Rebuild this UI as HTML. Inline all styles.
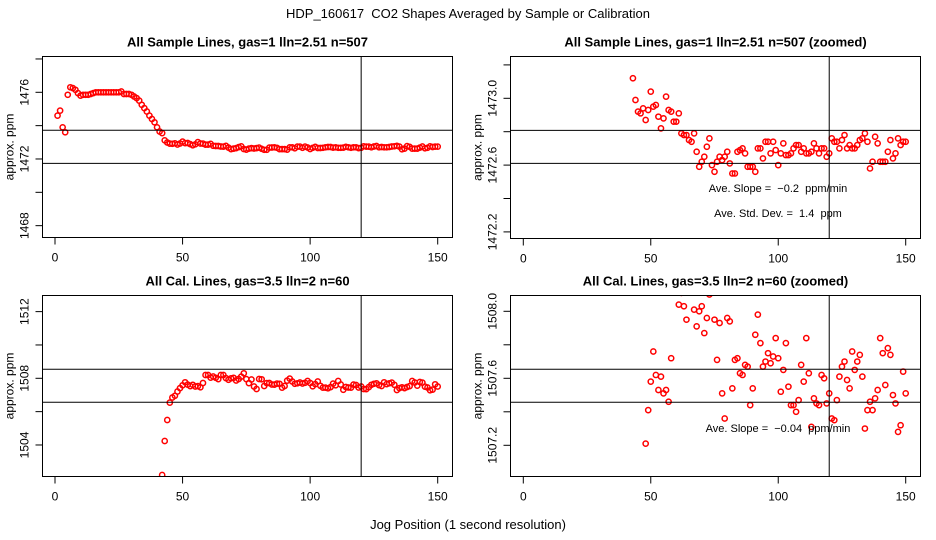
<!DOCTYPE html>
<html><head><meta charset="utf-8"><style>
html,body{margin:0;padding:0;background:#fff;width:936px;height:540px;overflow:hidden;}
svg{display:block;font-family:"Liberation Sans",sans-serif;}
text{white-space:pre;}
</style></head><body>
<svg id="c" width="936" height="540" viewBox="0 0 936 540"></svg>
<script>
// x positions 1..150
const xs = Array.from({length:150},(_,i)=>i+1);
// Sample series: first 42 points (panel 1 readings)
const sampleEarly = [1474.6,1474.9,1473.9,1473.6,1475.85,1476.3,1476.25,1476.15,1475.95,1475.8,1475.85,1475.85,1475.85,1475.9,1475.95,1476.0,1476.0,1476.0,1476.0,1476.0,1476.0,1476.0,1476.0,1476.0,1476.0,1476.05,1475.9,1475.9,1475.9,1475.85,1475.75,1475.65,1475.5,1475.25,1475.05,1474.85,1474.6,1474.4,1474.2,1473.9,1473.65,1473.55];
// Sample series from x=43 (zoomed panel readings)
const sampleLate = [1473.12,1472.99,1472.92,1472.91,1472.94,1472.87,1472.93,1473.04,1472.95,1472.96,1472.89,1472.82,1472.88,1473.01,1472.93,1472.92,1472.86,1472.86,1472.91,1472.79,1472.78,1472.78,1472.75,1472.74,1472.79,1472.68,1472.59,1472.62,1472.65,1472.71,1472.76,1472.60,1472.56,1472.62,1472.65,1472.63,1472.65,1472.68,1472.61,1472.55,1472.55,1472.68,1472.69,1472.70,1472.67,1472.59,1472.59,1472.59,1472.56,1472.70,1472.70,1472.64,1472.74,1472.74,1472.67,1472.74,1472.69,1472.60,1472.67,1472.73,1472.66,1472.66,1472.67,1472.70,1472.72,1472.72,1472.68,1472.70,1472.67,1472.67,1472.68,1472.73,1472.70,1472.67,1472.70,1472.70,1472.65,1472.67,1472.76,1472.74,1472.74,1472.70,1472.75,1472.78,1472.70,1472.72,1472.70,1472.70,1472.72,1472.75,1472.76,1472.79,1472.74,1472.58,1472.62,1472.77,1472.73,1472.62,1472.62,1472.62,1472.68,1472.75,1472.64,1472.67,1472.76,1472.72,1472.74,1472.74];
const sample = sampleEarly.concat(sampleLate);
// Calibration series starting at x=42
const calX = Array.from({length:109},(_,i)=>i+42);
const cal = [1502.2,1504.24,1505.5,1506.54,1506.85,1506.95,
1507.21,1507.41,1507.58,1507.76,1507.62,1507.53,1507.61,1507.51,1507.53,1507.46,1507.72,1508.2,1508.2,1508.04,1508.11,1508.03,1507.95,1508.2,1508.2,1508.01,1507.91,1508.00,1508.03,1507.87,1507.96,1508.10,1508.3,1507.95,1507.71,1507.93,1507.51,1507.36,1507.96,1507.94,1507.54,1507.71,1507.72,1507.63,1507.62,1507.68,1507.67,1507.44,1507.54,1507.86,1507.98,1507.81,1507.67,1507.70,1507.75,1507.69,1507.73,1507.84,1507.72,1507.52,1507.65,1507.81,1507.55,1507.44,1507.44,1507.40,1507.47,1507.68,1507.58,1507.84,1507.63,1507.31,1507.48,1507.45,1507.44,1507.62,1507.60,1507.45,1507.51,1507.36,1507.35,1507.47,1507.61,1507.67,1507.70,1507.59,1507.54,1507.76,1507.65,1507.70,1507.74,1507.61,1507.30,1507.41,1507.46,1507.41,1507.48,1507.53,1507.84,1507.75,1507.56,1507.78,1507.74,1507.50,1507.45,1507.28,1507.32,1507.64,1507.51];
const xTicks = [0,50,100,150];

const NS="http://www.w3.org/2000/svg";
const svg=document.getElementById('c');
function el(t,a,p){const e=document.createElementNS(NS,t);for(const k in a)e.setAttribute(k,a[k]);(p||svg).appendChild(e);return e;}
function txt(s,a,p){const e=el('text',a,p);e.textContent=s;return e;}

txt('HDP_160617  CO2 Shapes Averaged by Sample or Calibration',{x:468,y:18,'text-anchor':'middle','font-size':13,});
txt('Jog Position (1 second resolution)',{x:468,y:529,'text-anchor':'middle','font-size':13,});

function panel(o){
  const g=el('g',{});
  
  
  const X=v=>o.x0+v*(o.x150-o.x0)/150;
  const Y=v=>o.yRefPx+(o.yRef-v)*o.ppu;
  txt(o.title,{x:(o.L+o.R)/2,y:o.T-10,'text-anchor':'middle','font-size':13,'font-weight':'bold',},g);
  const cp='cp'+o.name;
  const clip=el('clipPath',{id:cp},g);el('rect',{x:o.L,y:o.T,width:o.R-o.L,height:o.B-o.T},clip);
  const pg=el('g',{'clip-path':'url(#'+cp+')'},g);
  o.px.forEach((xv,i)=>{
    const c=el('circle',{cx:X(xv),cy:Y(o.py[i]),r:2.6,fill:'none',stroke:'#ff0000','stroke-width':1.5},pg);
    
    
  });
  o.hl.forEach(v=>{const l=el('line',{x1:o.L,x2:o.R,y1:Y(v),y2:Y(v),stroke:'#000','stroke-width':1},g);});
  const vl=el('line',{x1:X(120),x2:X(120),y1:o.T,y2:o.B,stroke:'#000','stroke-width':1},g);
  
  el('rect',{x:o.L,y:o.T,width:o.R-o.L,height:o.B-o.T,fill:'none',stroke:'#000','stroke-width':1,},g);
  xTicks.forEach(t=>{el('line',{x1:X(t),x2:X(t),y1:o.B,y2:o.B+7,stroke:'#000'},g);
    txt(String(t),{x:X(t),y:o.B+24,'text-anchor':'middle','font-size':12,},g);});
  o.yt.forEach((t,i)=>{const y=Y(t);el('line',{x1:o.L-7,x2:o.L,y1:y,y2:y,stroke:'#000'},g);
    if(o.ylab[i]!==''){txt(o.ylab[i],{x:0,y:0,transform:`translate(${o.L-14},${y}) rotate(-90)`,'text-anchor':'middle','font-size':12,},g);}});
  txt('approx. ppm',{x:0,y:0,transform:`translate(${o.L-29},${(o.T+o.B)/2}) rotate(-90)`,'text-anchor':'middle','font-size':12,},g);
  (o.notes||[]).forEach(n=>txt(n[0],{x:n[1],y:n[2],'text-anchor':'middle','font-size':11,},g));
}
panel({name:'panel-sample',title:'All Sample Lines, gas=1 lln=2.51 n=507',L:42.5,R:452.5,T:56.5,B:237.5,x0:55,x150:437.7,
  yRef:1476,yRefPx:92.3,ppu:16.67,px:xs,py:sample,hl:[1473.72,1471.74],yt:[1478,1476,1474,1472,1470,1468],ylab:['','1476','','1472','','1468']});
panel({name:'panel-sample-zoomed',title:'All Sample Lines, gas=1 lln=2.51 n=507 (zoomed)',L:510.5,R:920.5,T:56.5,B:238.5,x0:523.3,x150:905.7,
  yRef:1473.0,yRefPx:98.3,ppu:167,px:xs,py:sample,hl:[1472.808,1472.61],yt:[1473.2,1473.0,1472.8,1472.6,1472.4,1472.2],ylab:['','1473.0','','1472.6','','1472.2'],
  notes:[['Ave. Slope =  \u22120.2  ppm/min',778,192],['Ave. Std. Dev. =  1.4  ppm',778,217]]});
panel({name:'panel-cal',title:'All Cal. Lines, gas=3.5 lln=2 n=60',L:42.5,R:452.5,T:295.5,B:476.5,x0:55,x150:437.7,
  yRef:1508,yRefPx:378.3,ppu:16.67,px:calX,py:cal,hl:[1508.54,1506.56],yt:[1512,1510,1508,1506,1504],ylab:['1512','','1508','','1504']});
panel({name:'panel-cal-zoomed',title:'All Cal. Lines, gas=3.5 lln=2 n=60 (zoomed)',L:510.5,R:920.5,T:295.5,B:476.5,x0:523.3,x150:905.7,
  yRef:1507.6,yRefPx:378.3,ppu:167.5,px:calX,py:cal,hl:[1507.654,1507.457],yt:[1508.0,1507.8,1507.6,1507.4,1507.2],ylab:['1508.0','','1507.6','','1507.2'],
  notes:[['Ave. Slope =  \u22120.04  ppm/min',778,432]]});
</script>
</body></html>
